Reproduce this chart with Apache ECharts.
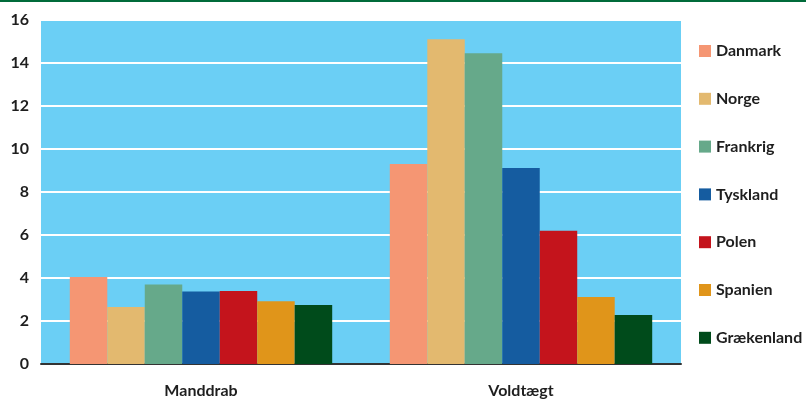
<!DOCTYPE html>
<html><head><meta charset="utf-8">
<script src="https://cdn.jsdelivr.net/npm/echarts@6/dist/echarts.min.js"></script>
<style>html,body{margin:0;padding:0;background:#fff}#c{width:806px;height:401px}</style>
</head><body><div id="c"></div>
<script>
const categories = ['Manddrab', 'Voldtægt'];
const countries = ['Danmark', 'Norge', 'Frankrig', 'Tyskland', 'Polen', 'Spanien', 'Grækenland'];
const colors = ['#f59673', '#e3b96f', '#66a98a', '#155ca0', '#c4141c', '#e0951a', '#004b1b'];
const Danmark = [4.05, 9.3];
const Norge = [2.65, 15.1];
const Frankrig = [3.7, 14.45];
const Tyskland = [3.37, 9.12];
const Polen = [3.4, 6.2];
const Spanien = [2.92, 3.12];
const Graekenland = [2.74, 2.28];
const values = [Danmark, Norge, Frankrig, Tyskland, Polen, Spanien, Graekenland];
const yTicks = [0, 2, 4, 6, 8, 10, 12, 14, 16];

const font = 'Lato, "Open Sans", sans-serif';
const chart = echarts.init(document.getElementById('c'), null, {renderer: 'canvas'});
chart.setOption({
  animation: false,
  graphic: [{type: 'rect', shape: {x: 0, y: 0, width: 806, height: 2}, style: {fill: '#006b3a'}}],
  grid: {left: 41, right: 125, top: 20, bottom: 37, show: true, backgroundColor: '#6bcff5', borderWidth: 0},
  legend: {
    orient: 'vertical', left: 694, top: 38, itemWidth: 12, itemHeight: 12, itemGap: 31.8,
    icon: 'rect', data: countries,
    textStyle: {fontFamily: font, fontWeight: 'bold', fontSize: 16, color: '#1e1e1e', lineHeight: 16}
  },
  xAxis: {
    type: 'category', data: categories,
    axisLine: {lineStyle: {color: '#333', width: 2}},
    axisTick: {show: false},
    axisLabel: {fontFamily: font, fontWeight: 'bold', fontSize: 16, color: '#1e1e1e', margin: 19}
  },
  yAxis: {
    type: 'value', min: 0, max: 16, interval: 2,
    axisLine: {show: false}, axisTick: {show: false},
    splitLine: {lineStyle: {color: '#ffffff', width: 2}},
    axisLabel: {fontFamily: font, fontWeight: 'bold', fontSize: 16, color: '#1e1e1e', margin: 12,
      formatter: v => yTicks.includes(v) ? String(v) : ''}
  },
  series: countries.map((name, i) => ({
    name, type: 'bar', data: values[i], barGap: '0%', barCategoryGap: '18%',
    itemStyle: {color: colors[i]}
  }))
});
</script></body></html>
